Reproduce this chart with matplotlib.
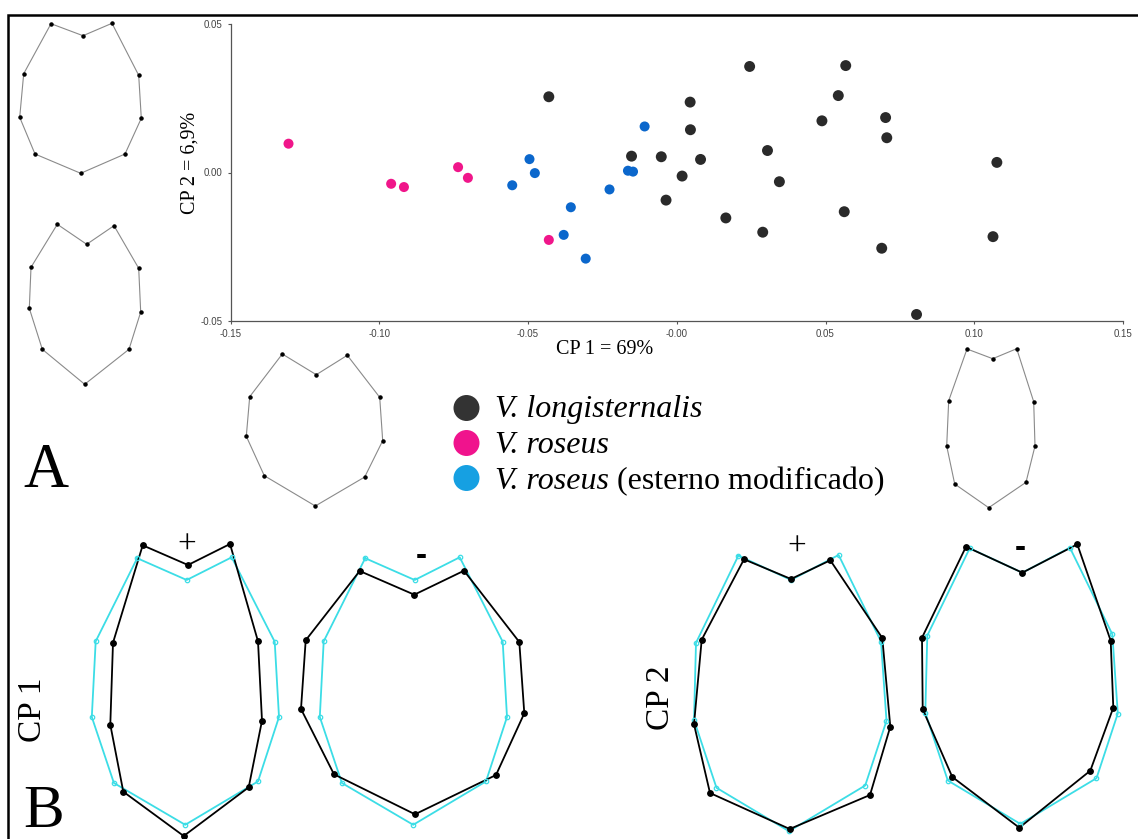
import matplotlib
matplotlib.use('Agg')
import matplotlib.pyplot as plt

plt.rcParams['font.family'] = ['Liberation Serif', 'DejaVu Serif']

W, H = 1138, 839

# PCA scores (CP 1, CP 2)
longi_x = [-0.043, -0.0152, -0.0052, -0.0036, 0.0245, 0.0568, 0.0045, 0.0543, 0.0488, 0.0702, 0.0706, 0.0046,
           0.008, 0.0018, 0.0305, 0.0345, 0.0165, 0.0289, 0.0563, 0.0689, 0.1076, 0.1063, 0.0806]
longi_y = [0.0255, 0.0055, 0.0053, -0.0093, 0.0357, 0.036, 0.0237, 0.0259, 0.0174, 0.0185, 0.0117, 0.0144,
           0.0044, -0.0012, 0.0074, -0.0031, -0.0153, -0.0201, -0.0132, -0.0255, 0.0034, -0.0216, -0.0478]
roseus_x = [-0.1305, -0.096, -0.0917, -0.0735, -0.0702, -0.043]
roseus_y = [0.0097, -0.0038, -0.0049, 0.0018, -0.0018, -0.0227]
modif_x = [-0.0495, -0.0477, -0.0553, -0.0356, -0.038, -0.0306, -0.0226, -0.0164, -0.0147, -0.0108]
modif_y = [0.0045, -0.0002, -0.0043, -0.0117, -0.021, -0.029, -0.0057, 0.0006, 0.0003, 0.0155]

x_ticks = [-0.15, -0.10, -0.05, 0.0, 0.05, 0.10, 0.15]
x_tick_labels = ['-0.15', '-0.10', '-0.05', '-0.00', '0.05', '0.10', '0.15']
y_ticks = [-0.05, 0.0, 0.05]
y_tick_labels = ['-0.05', '0.00', '0.05']

legend_names = ['V. longisternalis', 'V. roseus', 'V. roseus']
legend_extra = ['', '', ' (esterno modificado)']
legend_colors = ['#333333', '#f0138d', '#16a0e2']

# landmark outlines, pixels relative to the notch landmark (y down)
# order: top-left, notch, top-right, then clockwise round to left-upper
outline_a1_x = [-32, 0, 29, 55.7, 58.3, 42, -2.3, -48, -63.3, -59.3]
outline_a1_y = [-12, 0, -12.4, 39.6, 82.6, 118.3, 137.6, 118.3, 81.6, 38]
outline_a2_x = [-29.4, 0, 27.3, 52, 54, 42.3, -2, -44.4, -57.4, -55.7]
outline_a2_y = [-20, 0, -18.6, 24, 67.7, 105, 140, 105, 64, 23]
outline_a3_x = [-34, 0, 31, 63.4, 66.4, 48.4, -1, -52, -70, -66.6]
outline_a3_y = [-20.7, 0, -19.4, 22.6, 66, 102.3, 131.3, 101, 61.6, 22]
outline_a4_x = [-25.7, 0, 24, 41, 42.3, 33.3, -4, -38, -46, -44]
outline_a4_y = [-9.7, 0, -10, 43, 87.3, 123.6, 149, 125.3, 87.3, 42]

# mean shapes (cyan) and deformations (black) along CP 1 and CP 2
mean_cp1_x = [-49.5, 0, 45, 88, 92.3, 71.3, -1.5, -72.8, -94.9, -91]
mean_cp1_y = [-21.8, 0, -22.7, 61.7, 137, 201.4, 244.8, 203, 137, 61.3]
cp1_pos_x = [-44, 1.3, 43.3, 71.3, 75.3, 62, -3, -63.4, -76.4, -73.7]
cp1_pos_y = [-34.7, -15, -36, 61.3, 140.7, 207.3, 256, 211.7, 144.7, 62.7]
cp1_neg_x = [-55, -0.4, 49.3, 104.6, 109.6, 81.3, 0.3, -80.7, -113.7, -109]
cp1_neg_y = [-9, 14.7, -9.3, 62, 133.3, 195, 234.3, 194.3, 129, 60.3]

mean_cp2_x = [-52.6, 0, 47.6, 90, 95.5, 74.2, -2, -74.5, -97, -95]
mean_cp2_y = [-24.4, 0, -25, 61.5, 140.8, 205.5, 251.2, 207.8, 140, 62.8]
cp2_pos_x = [-47, 0, 39.3, 91.3, 99.3, 79, -1.3, -81, -97, -89.3]
cp2_pos_y = [-20.7, -1, -19.7, 58, 146.7, 215, 249, 213, 144.3, 59.7]
cp2_neg_x = [-56.3, 0, 55, 88.4, 91, 68, -3, -70, -99.6, -100.3]
cp2_neg_y = [-26, 0, -28.4, 68, 135, 198, 255, 204.3, 136.6, 65]


def closed(vals, off):
    pts = [off + v for v in vals]
    return pts + [pts[0]]


def draw_outline(ax, xs, ys, ox, oy, line_color, lw, dot_color, ms, mfc):
    ax.plot(closed(xs, ox), closed(ys, oy), color=line_color, lw=lw, zorder=2)
    ax.plot([ox + v for v in xs], [oy + v for v in ys], ls='none', marker='o', ms=ms,
            mfc=mfc, mec=dot_color, mew=0.9, zorder=3)


fig = plt.figure(figsize=(W / 100, H / 100), dpi=100)

# overlay in pixel units for outlines, border and labels
ov = fig.add_axes([0, 0, 1, 1])
ov.set_xlim(0, W)
ov.set_ylim(H, 0)
ov.axis('off')
ov.patch.set_alpha(0)

ov.plot([8.5, 8.5, W + 10], [H + 10, 15, 15], color='black', lw=1.8, solid_joinstyle='miter')

for xs, ys, ox, oy in [(outline_a1_x, outline_a1_y, 83, 35.7),
                       (outline_a2_x, outline_a2_y, 86.7, 244.3),
                       (outline_a3_x, outline_a3_y, 316.3, 374.7),
                       (outline_a4_x, outline_a4_y, 992.7, 358.7)]:
    draw_outline(ov, xs, ys, ox, oy, '#8a8a8a', 0.8, 'black', 2.3, 'black')

cyan = '#3cdde6'
for mx, my, bx, by, ox, oy in [(mean_cp1_x, mean_cp1_y, cp1_pos_x, cp1_pos_y, 186.7, 580),
                               (mean_cp1_x, mean_cp1_y, cp1_neg_x, cp1_neg_y, 414.7, 580),
                               (mean_cp2_x, mean_cp2_y, cp2_pos_x, cp2_pos_y, 791, 580),
                               (mean_cp2_x, mean_cp2_y, cp2_neg_x, cp2_neg_y, 1022.3, 572.7)]:
    draw_outline(ov, mx, my, ox, oy, cyan, 1.3, cyan, 3.2, 'none')
    draw_outline(ov, bx, by, ox, oy, 'black', 1.3, 'black', 4.0, 'black')

# scatter plot
ax = fig.add_axes([230.5 / W, 1 - 321 / H, (1123 - 230.5) / W, (321 - 24) / H])
ax.patch.set_alpha(0)
ax.scatter(longi_x, longi_y, s=62, color='#2a2a2a', edgecolors='none', zorder=3)
ax.scatter(roseus_x, roseus_y, s=52, color='#f0168a', edgecolors='none', zorder=3)
ax.scatter(modif_x, modif_y, s=52, color='#0b67cc', edgecolors='none', zorder=3)
ax.set_xlim(-0.15, 0.15)
ax.set_ylim(-0.05, 0.05)
ax.set_xticks(x_ticks)
ax.set_xticklabels(x_tick_labels)
ax.set_yticks(y_ticks)
ax.set_yticklabels(y_tick_labels)
for side in ['top', 'right']:
    ax.spines[side].set_visible(False)
for side in ['left', 'bottom']:
    ax.spines[side].set_color('#555555')
    ax.spines[side].set_linewidth(0.9)
ax.tick_params(direction='out', length=2.5, width=0.8, color='#555555', pad=3,
               labelsize=7, labelcolor='#444444')
for lab in ax.get_xticklabels() + ax.get_yticklabels():
    lab.set_family('Liberation Sans')

fig.text(605 / W, 1 - 349 / H, 'CP 1 = 69%', fontsize=14.5, ha='center', va='center')
fig.text(190 / W, 1 - 163 / H, 'CP 2 = 6,9%', fontsize=14.5, ha='center', va='center', rotation=90)

# legend
renderer = fig.canvas.get_renderer()
for i, (name, extra, col) in enumerate(zip(legend_names, legend_extra, legend_colors)):
    cy = 408 + 35 * i
    base = 417 + 36 * i
    ov.scatter([466.5], [cy], s=350, color=col, edgecolors='none')
    t = fig.text(495 / W, 1 - base / H, name, style='italic', fontsize=23, va='baseline')
    if extra:
        bb = t.get_window_extent(renderer)
        fig.text(bb.x1 / W, 1 - base / H, extra, fontsize=23, va='baseline')

# panel letters and labels
fig.text(23 / W, 1 - 487 / H, 'A', fontsize=45, va='baseline')
fig.text(23 / W, 1 - 827 / H, 'B', fontsize=44, va='baseline')
fig.text(33 / W, 1 - 710 / H, 'CP 1', fontsize=24, rotation=90, ha='center', va='center')
fig.text(661 / W, 1 - 698 / H, 'CP 2', fontsize=24, rotation=90, ha='center', va='center')
fig.text(186.7 / W, 1 - 545 / H, '+', fontsize=24, ha='center', va='center')
fig.text(796.7 / W, 1 - 547 / H, '+', fontsize=24, ha='center', va='center')
fig.text(421.7 / W, 1 - 556 / H, '-', fontsize=24, fontweight='bold', family='Liberation Sans',
         ha='center', va='center')
fig.text(1020 / W, 1 - 549 / H, '-', fontsize=24, fontweight='bold', family='Liberation Sans',
         ha='center', va='center')

fig.savefig('out.png', dpi=100)
